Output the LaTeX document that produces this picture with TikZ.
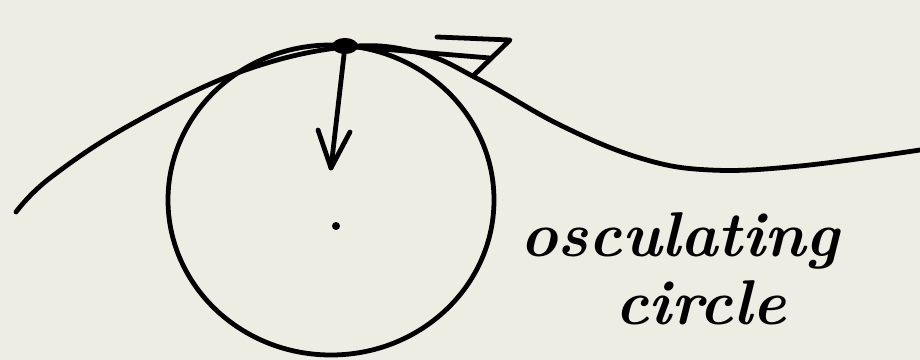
\documentclass[tikz,border=0pt]{standalone}
\usepackage{xcolor}
\usepackage{tikz}
\usetikzlibrary{arrows.meta,calc,positioning}
\definecolor{paper}{HTML}{EDEDE3}
\colorlet{ink}{black}
\tikzset{pen/.style={draw=ink,line width=3.4pt,line cap=round,line join=round},
  hand/.style={font=\fontsize{45}{45}\selectfont\bfseries\itshape,anchor=base west,inner sep=0pt}}
\begin{document}
\begin{tikzpicture}[x=0.025cm,y=-0.025cm,>=Latex]
\fill[paper] (0,0) rectangle (920,360);
\useasboundingbox (0,0) rectangle (920,360);
% the curve and its osculating circle
\draw[pen] plot[smooth,tension=0.65] coordinates {(16,212) (50,178) (130,125) (240,72) (345,47)
  (420,53) (480,80) (560,125) (640,158) (710,170) (800,166) (920,150)};
\draw[pen] (331,200) ellipse [x radius=163,y radius=155];
% point of contact, normal and tangent
\coordinate (P) at (345,46);
\coordinate (C) at (336,226);
\fill[ink] (P) ellipse [x radius=13,y radius=8];
\fill[ink] (C) circle (4);
\coordinate (Nend) at (331,168);
\draw[pen] (P) -- (Nend);
\draw[pen] (318,130) -- (Nend) -- (350,132);
\coordinate (Tend) at (490,58);
\draw[pen] (P) -- (Tend);
\draw[pen] (437,37) -- (510,40) -- (473,76);
\node[hand] (osc) at (520,256) {osculating};
\node[hand] (circ) at (615,324) {circle};
\end{tikzpicture}
\end{document}
